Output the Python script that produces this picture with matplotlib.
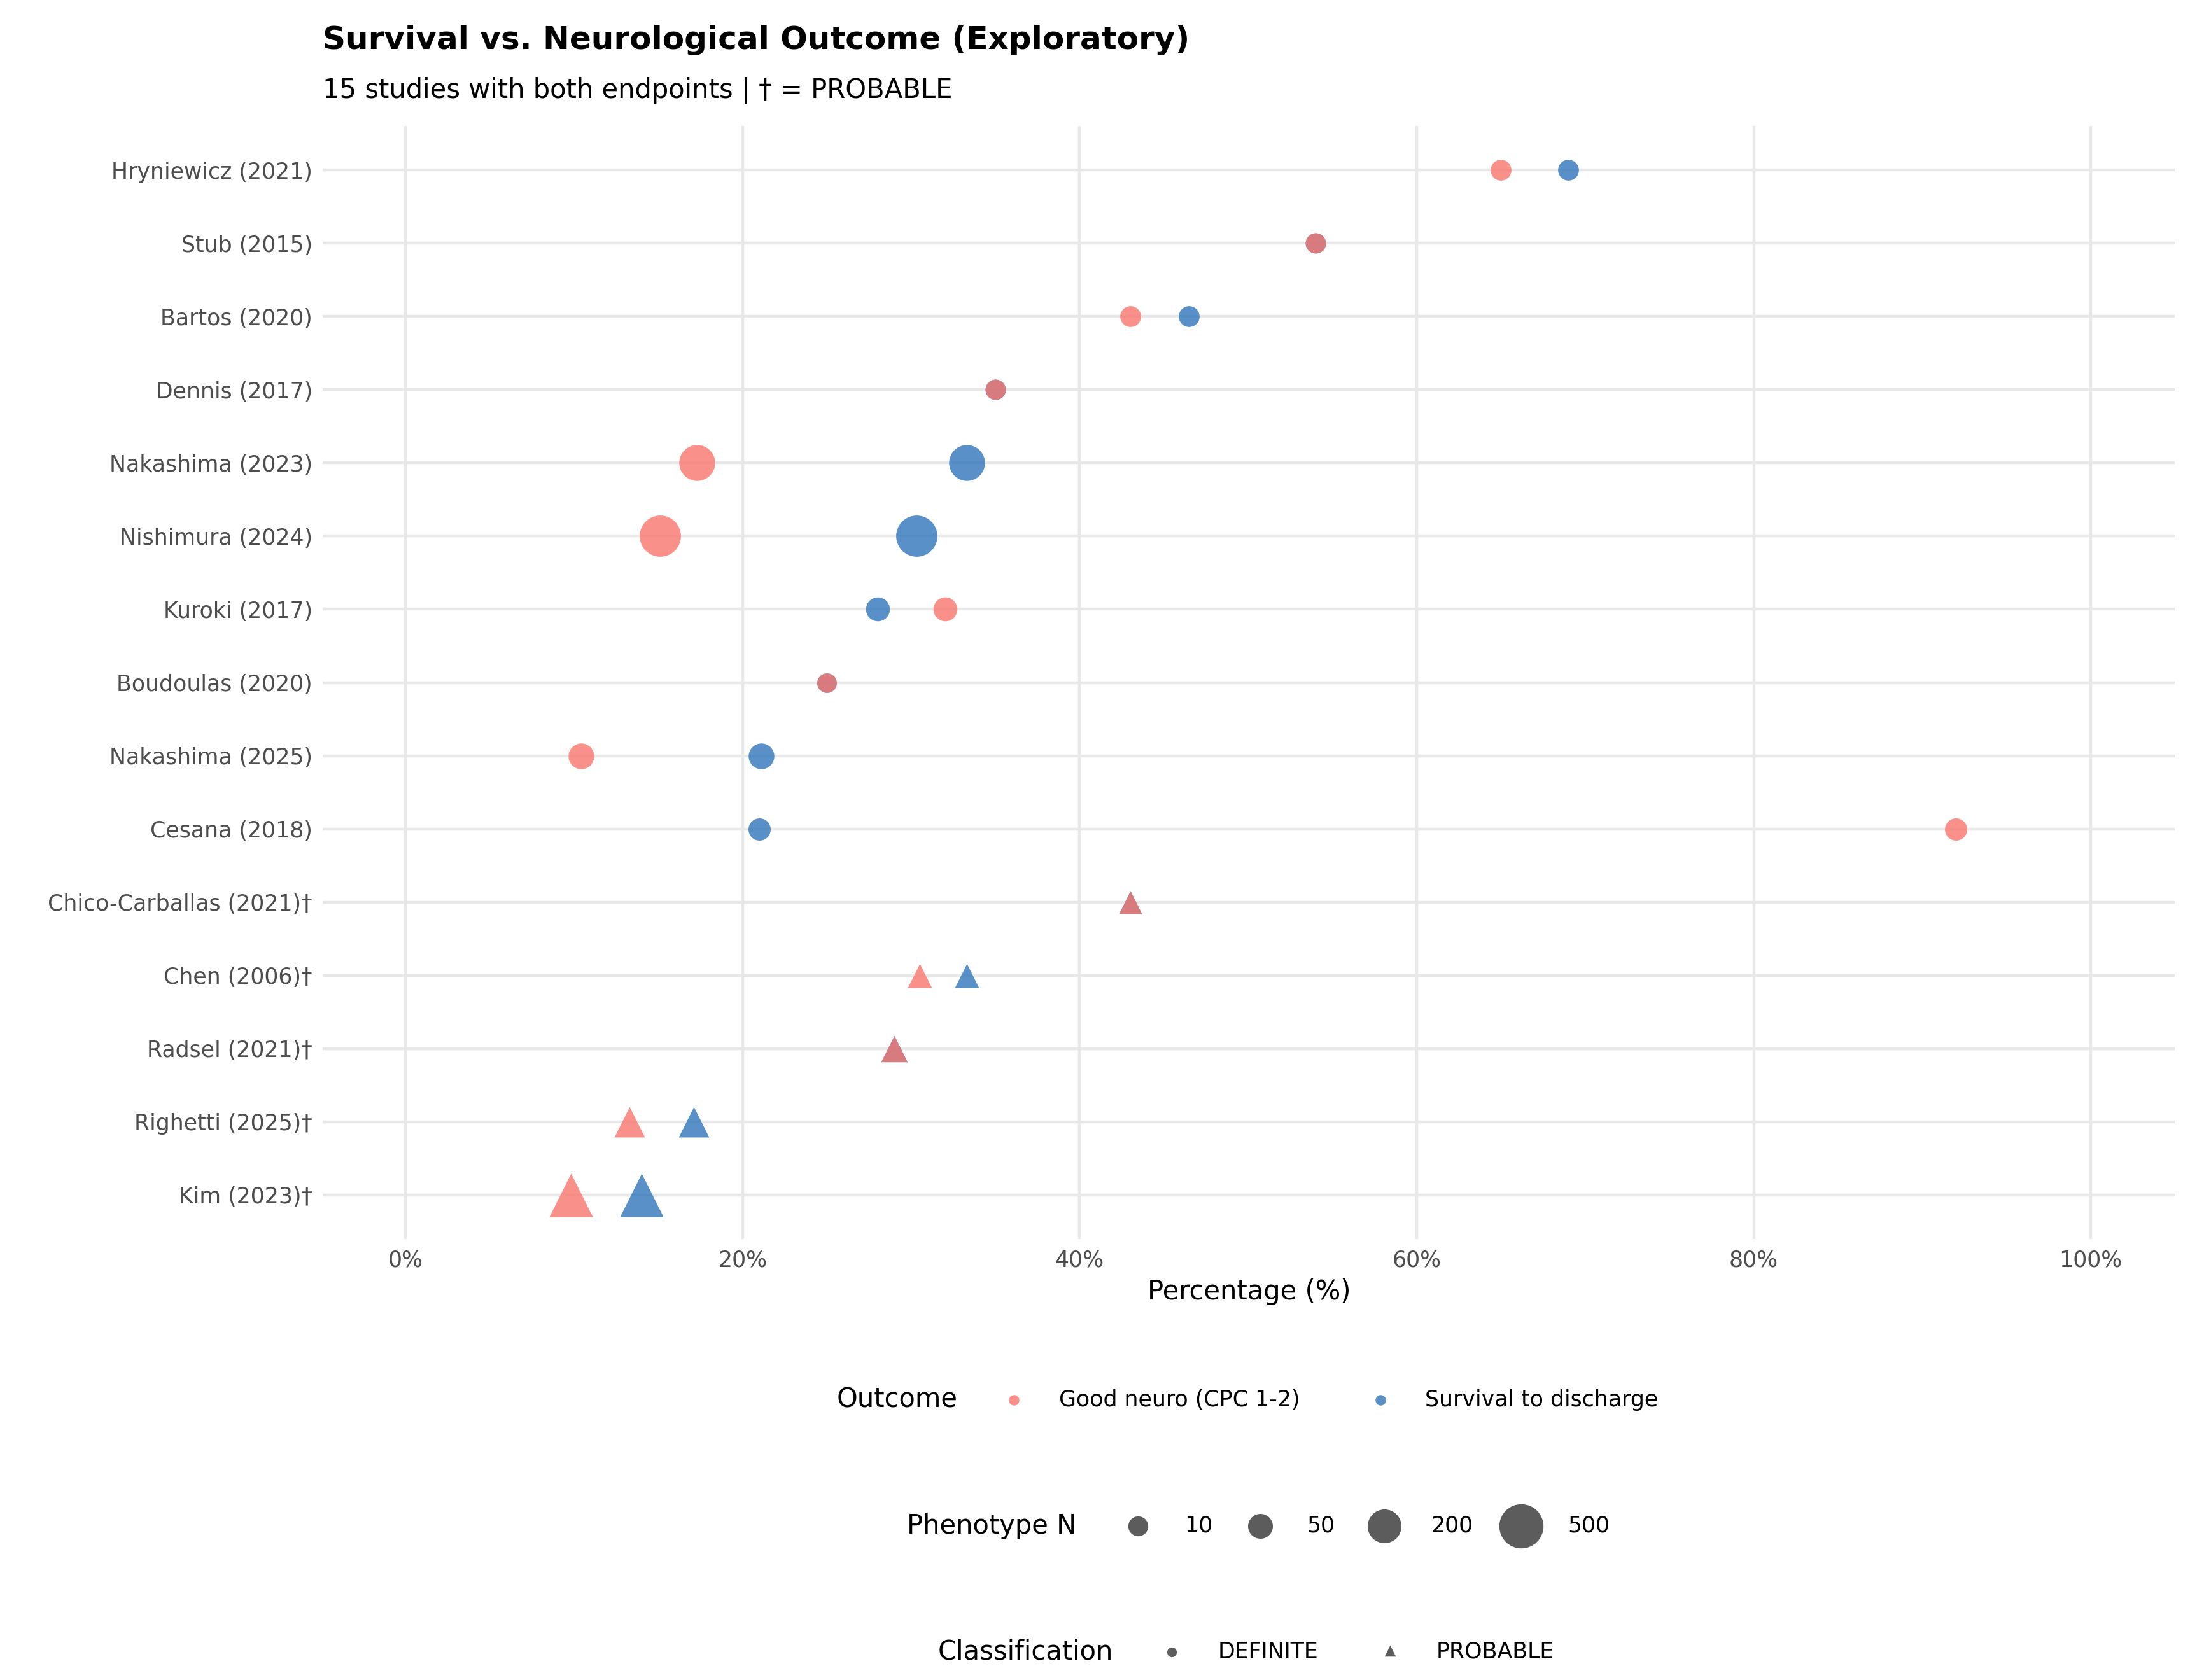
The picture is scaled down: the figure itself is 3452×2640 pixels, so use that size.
import numpy as np
import matplotlib.pyplot as plt

# ---- data ----
studies = ["Hryniewicz (2021)", "Stub (2015)", "Bartos (2020)", "Dennis (2017)",
           "Nakashima (2023)", "Nishimura (2024)", "Kuroki (2017)", "Boudoulas (2020)",
           "Nakashima (2025)", "Cesana (2018)", "Chico-Carballas (2021)\u2020",
           "Chen (2006)\u2020", "Radsel (2021)\u2020", "Righetti (2025)\u2020", "Kim (2023)\u2020"]
good_neuro = [65, 54, 43, 35, 17.3, 15.1, 32, 25, 10.4, 92, 43, 30.5, 29, 13.3, 9.8]
survival = [69, 54, 46.5, 35, 33.3, 30.3, 28, 25, 21.1, 21, 43, 33.3, 29, 17.1, 14]
pheno_n = [15, 12, 15, 12, 250, 400, 40, 8, 60, 25, 10, 15, 30, 70, 300]
probable = [False] * 10 + [True] * 5

c_neuro = "#F8766D"
c_surv = "#2E75BA"

def size_pt(n):
    return 9 + 16 * np.sqrt(np.asarray(n, float) / 500)

fig = plt.figure(figsize=(17.26, 13.2), dpi=200)
ax = fig.add_axes([0.147, 0.2625, 0.843, 0.6625])
ypos = np.arange(len(studies))[::-1]

# survival first, neuro on top (overlaps read as dark red)
for vals, col in [(survival, c_surv), (good_neuro, c_neuro)]:
    for y, v, n, p in zip(ypos, vals, pheno_n, probable):
        d = size_pt(n)
        if p:
            ax.scatter(v, y, s=(d * 1.15) ** 2, marker="^", color=col, alpha=0.8, lw=0, zorder=3)
        else:
            ax.scatter(v, y, s=d ** 2, marker="o", color=col, alpha=0.8, lw=0, zorder=3)

ax.set_xlim(-4.9, 105)
ax.set_ylim(-0.6, len(studies) - 0.4)
ax.set_yticks(ypos)
ax.set_yticklabels(studies)
ax.set_xticks(np.arange(0, 101, 20))
ax.set_xticklabels([f"{v}%" for v in range(0, 101, 20)])
ax.tick_params(which="both", length=0, labelsize=12.5, labelcolor="#4d4d4d", pad=6)
ax.grid(True, which="major", color="#e8e8e8", lw=1.6)
ax.set_axisbelow(True)
for s in ax.spines.values():
    s.set_visible(False)
ax.set_xlabel("Percentage (%)", fontsize=15, labelpad=4)

fig.text(0.147, 0.976, "Survival vs. Neurological Outcome (Exploratory)",
         fontsize=18, fontweight="bold", va="center")
fig.text(0.147, 0.946, "15 studies with both endpoints | \u2020 = PROBABLE",
         fontsize=15, va="center")

# ---- legends (manual, ggplot style) ----
lx = fig.add_axes([0, 0, 1, 1])
lx.set_xlim(0, 1560)
lx.set_ylim(1200, 0)
lx.axis("off")

lx.text(637, 1000, "Outcome", fontsize=15, ha="center", va="center")
lx.scatter([720], [1000], s=35, color=c_neuro, alpha=0.8, lw=0)
lx.text(752, 1000, "Good neuro (CPC 1-2)", fontsize=12.5, va="center")
lx.scatter([980], [1000], s=35, color=c_surv, alpha=0.8, lw=0)
lx.text(1012, 1000, "Survival to discharge", fontsize=12.5, va="center")

lx.text(704, 1090, "Phenotype N", fontsize=15, ha="center", va="center")
for n, mx in zip([10, 50, 200, 500], [808, 895, 983, 1080]):
    lx.scatter([mx], [1090], s=size_pt(n) ** 2, color="#333333", alpha=0.8, lw=0)
    lx.text(mx + 33, 1090, str(n), fontsize=12.5, va="center")

lx.text(728, 1180, "Classification", fontsize=15, ha="center", va="center")
lx.scatter([832], [1180], s=30, marker="o", color="#333333", alpha=0.8, lw=0)
lx.text(865, 1180, "DEFINITE", fontsize=12.5, va="center")
lx.scatter([987], [1179], s=40, marker="^", color="#333333", alpha=0.8, lw=0)
lx.text(1020, 1180, "PROBABLE", fontsize=12.5, va="center")

fig.savefig("out.png", dpi=200, facecolor="white")
